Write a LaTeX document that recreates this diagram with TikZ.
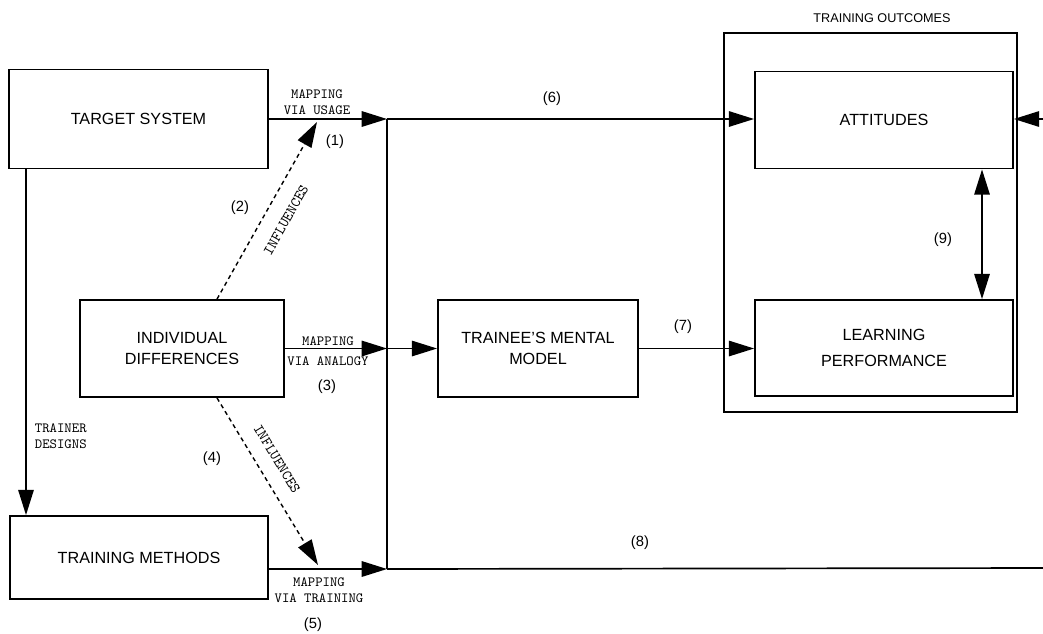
\documentclass[tikz,border=0pt]{standalone}
\usepackage{fontspec}
\setmainfont{Liberation Sans}
\usetikzlibrary{arrows.meta}
\tikzset{
  blk/.style={draw, line width=1.3pt, inner sep=0pt, align=center,
    font=\fontsize{11.5}{15.5}\selectfont},
  sz/.style 2 args={minimum width=#1*0.025cm, minimum height=#2*0.025cm},
  arr/.style={line width=1.2pt, -{Triangle[length=18pt,width=11pt]}},
  dasharr/.style={arr, line width=1pt, dash pattern=on 3pt off 2.5pt},
  lbl/.style={font=\ttfamily\fontsize{10}{11.3}\selectfont, align=center},
  num/.style={font=\fontsize{10.5}{12}\selectfont},
}
\begin{document}
\begin{tikzpicture}[x=0.025cm, y=-0.025cm]
\useasboundingbox (0,0) rectangle (1043,633);

\node[blk, sz={259}{99}] (target) at (138.5,119) {TARGET SYSTEM};
\node[blk, sz={204}{97}] (idiff) at (182,348.5) {INDIVIDUAL\\DIFFERENCES};
\node[blk, sz={258}{83}] (methods) at (139,557.5) {TRAINING METHODS};
\node[blk, sz={200}{97}] (mental) at (538,348.5) {TRAINEE'S MENTAL\\MODEL};
\node[draw, line width=1.3pt, sz={293}{379}] (outcomes) at (870.5,222.5) {};
\node[blk, sz={258}{97}] (att) at (884,120) {ATTITUDES};
\node[blk, sz={258}{96}, font=\fontsize{11.5}{19}\selectfont] (learn) at (884,348) {LEARNING\\PERFORMANCE};

\coordinate (j1) at (387,119);
\coordinate (j2) at (387,348.5);
\coordinate (j3) at (387,569);
\coordinate (c1) at (317,122);
\coordinate (c2) at (318,565);
\coordinate (r6) at (1043,119);
\coordinate (r8) at (1043,568);

\draw[arr] (target.east |- j1) -- (j1);
\draw[arr] (idiff.east) -- (j2);
\draw[arr] (methods.east |- j3) -- (j3);
\draw[line width=1.2pt] (j1) -- (j3);
\draw[arr] (j1) -- (att.west |- j1);
\draw[arr] (j2) -- (mental.west);
\draw[arr] (mental.east) -- (learn.west |- mental.east);
\draw[line width=1.2pt] (j3) -- (r8);
\draw[arr] (r6) -- (att.east |- r6);
\draw[arr] ([xshift=-12.5*0.025cm]target.south) ++(-100*0.025cm,0) -- ([xshift=-113*0.025cm]methods.north);
\draw[line width=1.2pt, {Triangle[length=18pt,width=11pt]}-{Triangle[length=18pt,width=11pt]}]
  ([xshift=98*0.025cm]att.south) -- ([xshift=98*0.025cm]learn.north);
\draw[dasharr] ([xshift=35*0.025cm]idiff.north) -- (c1);
\draw[dasharr] ([xshift=35*0.025cm]idiff.south) -- (c2);

\node[lbl] (musage) at (317,102) {MAPPING\\VIA USAGE};
\node[lbl, font=\ttfamily\fontsize{10}{14}\selectfont] (manalogy) at (328,351) {MAPPING\\VIA ANALOGY};
\node[lbl] (mtraining) at (319,590) {MAPPING\\VIA TRAINING};
\node[lbl, align=left, anchor=west] (tdesigns) at (30,436) {TRAINER\\DESIGNS};
\node[lbl, font=\ttfamily\fontsize{10.5}{12}\selectfont, rotate=60.7] (infl1) at (286,220) {INFLUENCES};
\node[lbl, font=\ttfamily\fontsize{10.5}{12}\selectfont, rotate=-58.8] (infl2) at (277,459) {INFLUENCES};

\node[num] (n1) at (335,142) {(1)};
\node[num] (n2) at (240,208) {(2)};
\node[num] (n3) at (327,387) {(3)};
\node[num] (n4) at (212,459) {(4)};
\node[num] (n5) at (313,625) {(5)};
\node[num] (n6) at (552,99) {(6)};
\node[num] (n7) at (683,327) {(7)};
\node[num] (n8) at (640,543) {(8)};
\node[num] (n9) at (943,240) {(9)};
\node[font=\fontsize{9}{11}\selectfont] (otitle) at (882,18) {TRAINING OUTCOMES};
\end{tikzpicture}
\end{document}
